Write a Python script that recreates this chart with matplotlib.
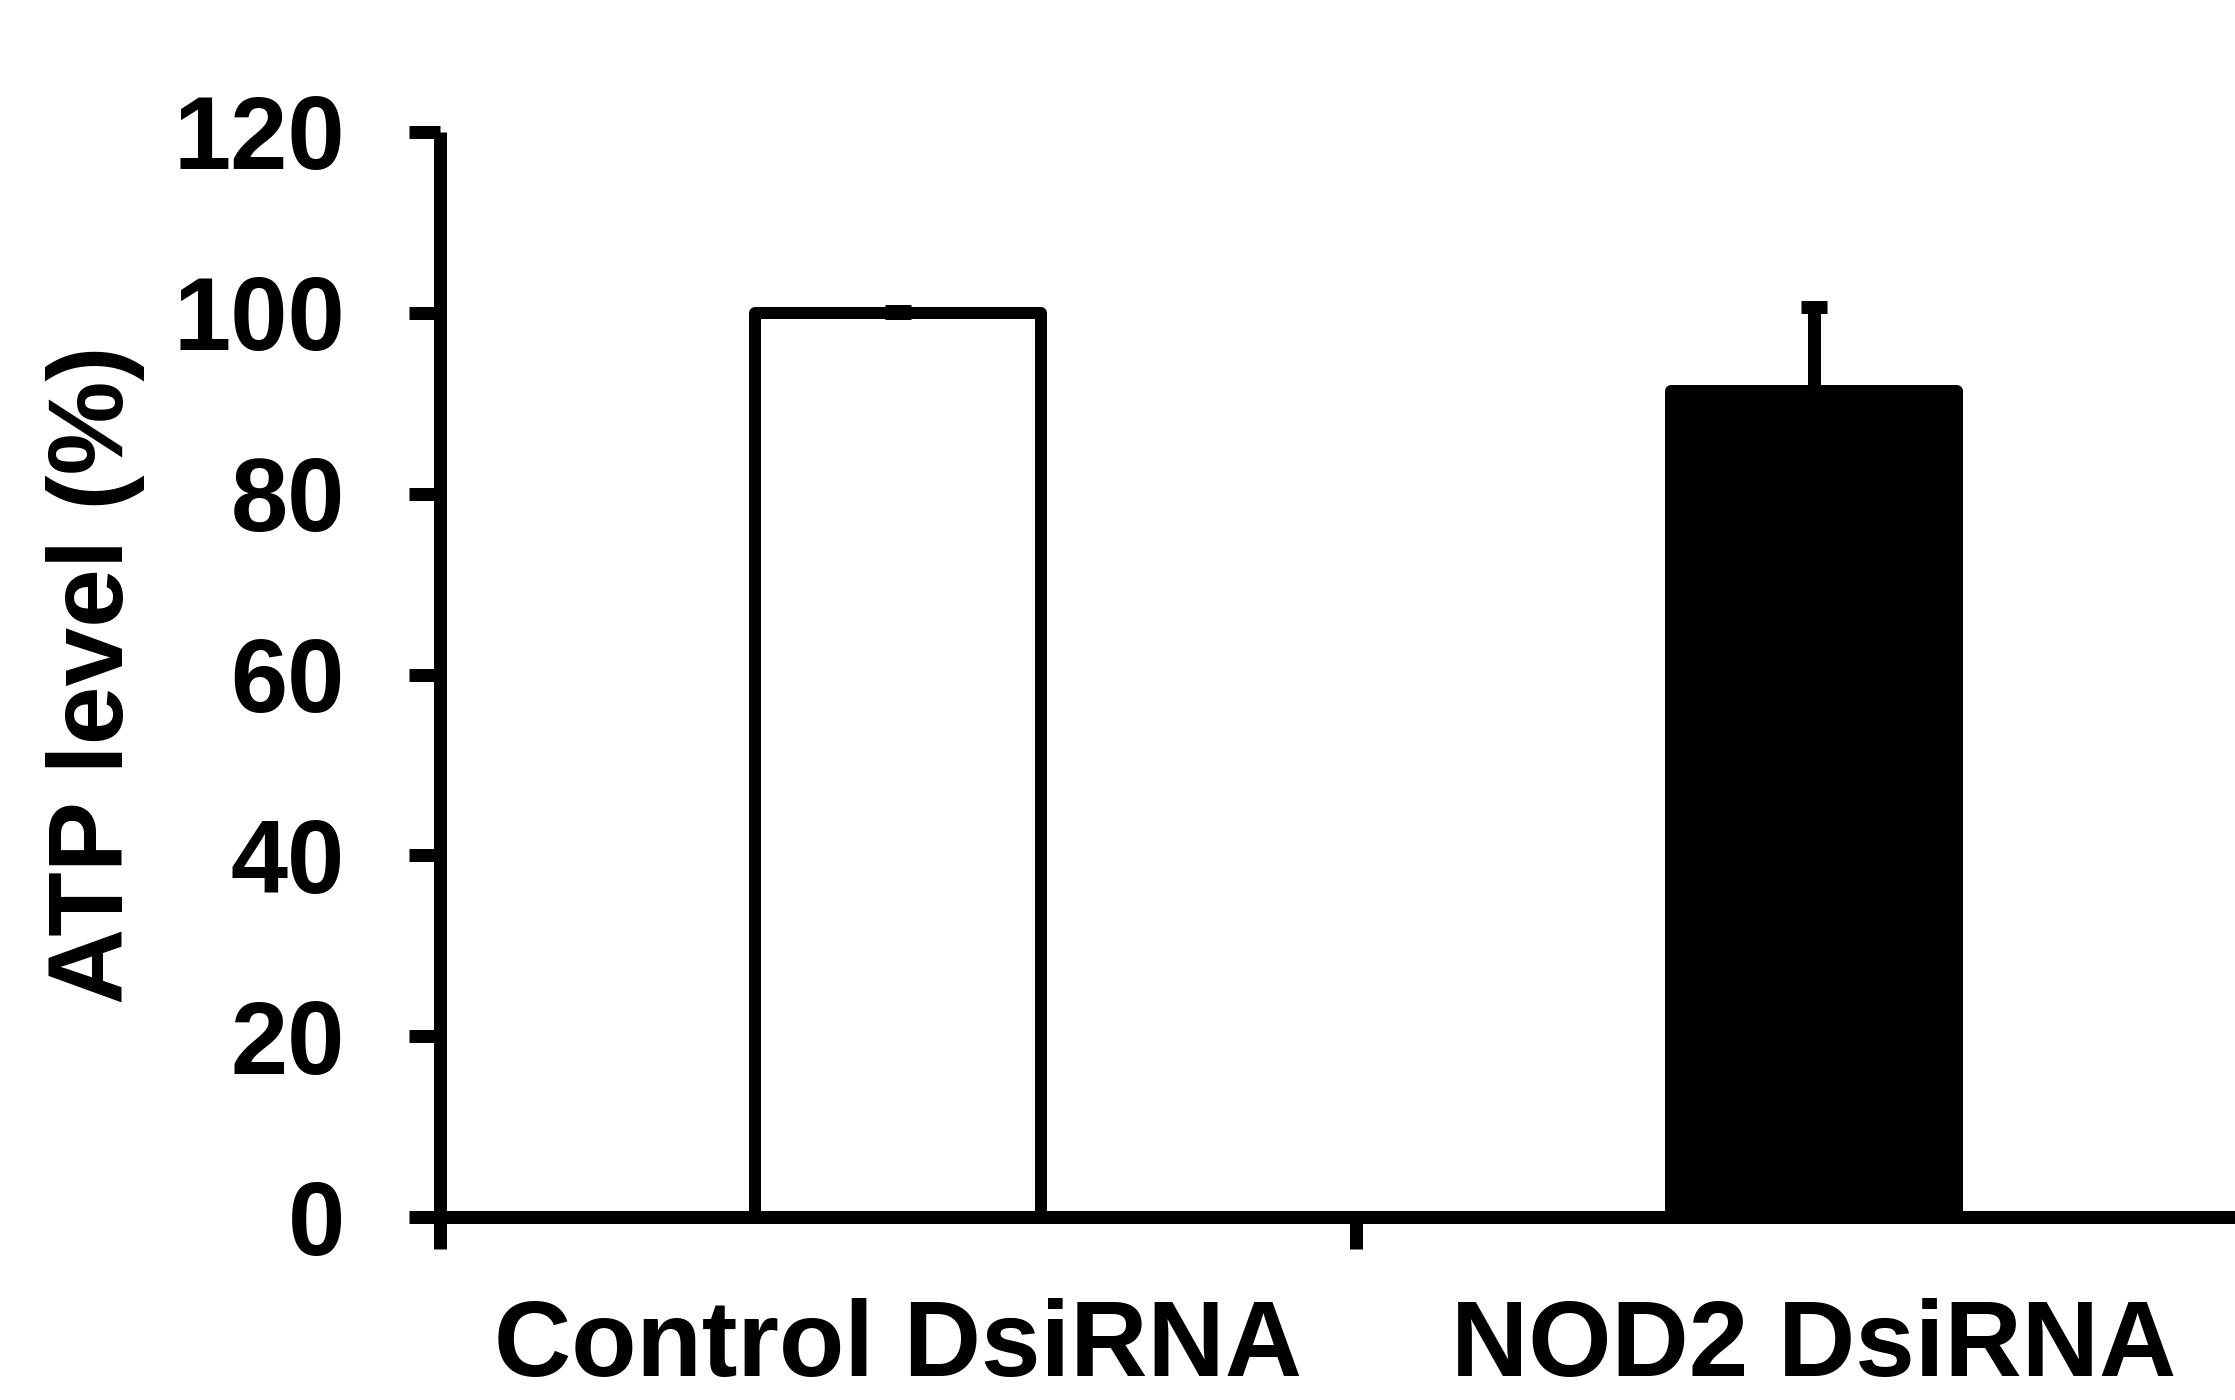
import matplotlib
matplotlib.use("Agg")
import matplotlib.pyplot as plt
from matplotlib.ticker import FixedLocator, NullFormatter, FixedFormatter

categories = ["Control DsiRNA", "NOD2 DsiRNA"]
values = [100.0, 91.4]
errors = [0.2, 9.3]
fills = ["white", "black"]
yticks = [0, 20, 40, 60, 80, 100, 120]

plt.rcParams['font.family'] = ['Liberation Sans', 'DejaVu Sans']
plt.rcParams['font.weight'] = 'bold'

W, H = 2235, 1400
fig = plt.figure(figsize=(W / 100, H / 100), dpi=100)
ax = fig.add_axes([440 / W, 183 / H, 1832 / W, 1085 / H])

lw_px = 13
lw = lw_px * 72 / 100
pos = [0.5, 1.5]
ax.bar(pos, values, width=0.312, color=fills, edgecolor="black",
       linewidth=12 * 72 / 100, joinstyle="round", zorder=2)
ax.errorbar(pos, values, yerr=[[0, 0], errors], fmt="none", ecolor="black",
            elinewidth=lw, capsize=13 * 72 / 100, capthick=lw, zorder=3)

ax.set_xlim(0, 2)
ax.set_ylim(0, 120)
for s in ["top", "right"]:
    ax.spines[s].set_visible(False)
for s in ["left", "bottom"]:
    ax.spines[s].set_linewidth(lw)
    ax.spines[s].set_capstyle("butt")

ax.set_yticks(yticks)
ax.set_yticklabels([str(v) for v in yticks])
ax.tick_params(axis="y", direction="out", length=31 * 72 / 100, width=lw,
               pad=46, labelsize=74)

ax.xaxis.set_major_locator(FixedLocator([0, 1, 2]))
ax.xaxis.set_major_formatter(NullFormatter())
ax.xaxis.set_minor_locator(FixedLocator(pos))
ax.xaxis.set_minor_formatter(FixedFormatter(categories))
ax.tick_params(axis="x", which="major", direction="out", length=32 * 72 / 100,
               width=lw)
ax.tick_params(axis="x", which="minor", length=0, pad=58, labelsize=77)

ax.set_ylabel("ATP level (%)", fontsize=76, fontweight="bold")
ax.yaxis.set_label_coords(-0.161, 0.5)

fig.savefig("out.png", dpi=100)
